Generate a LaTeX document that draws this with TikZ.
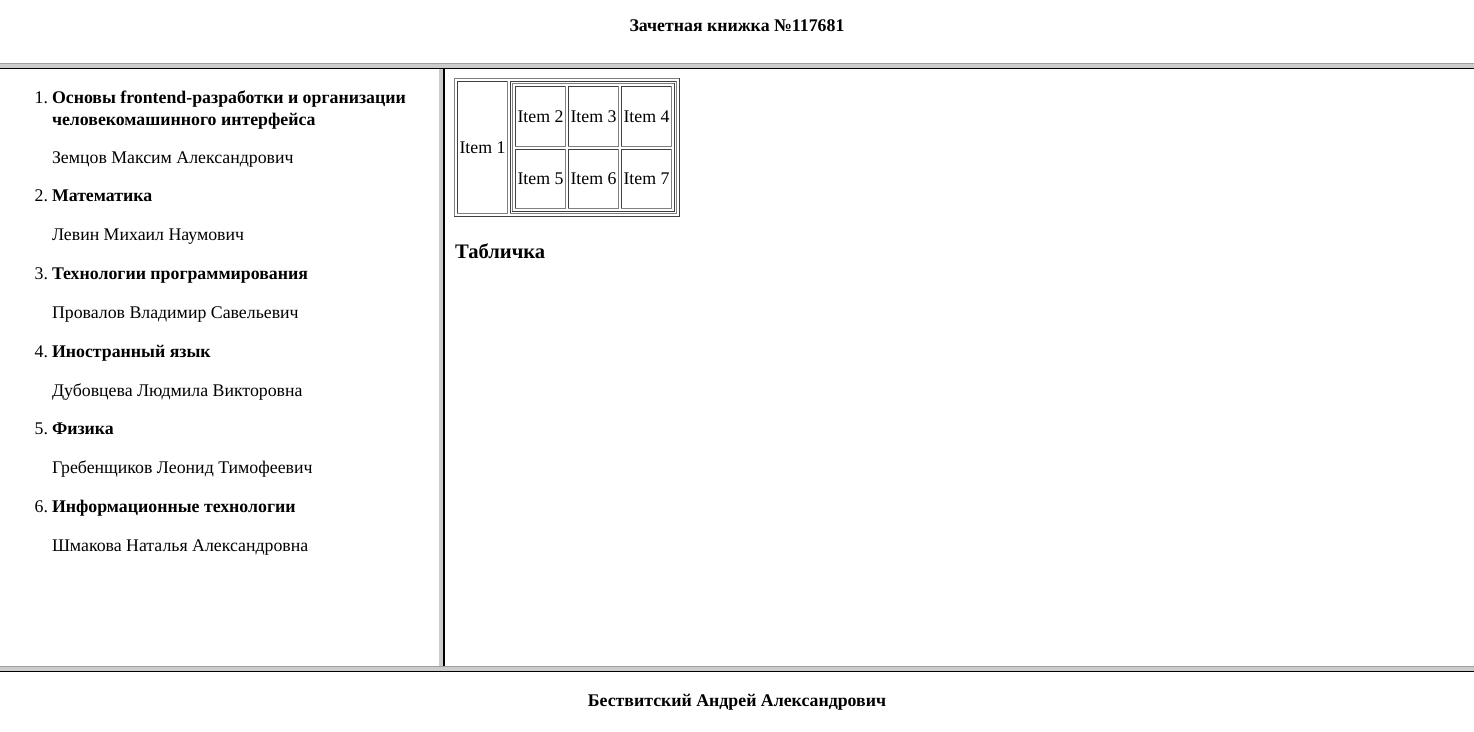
\documentclass[tikz,border=0pt]{standalone}
\usepackage{fontspec}
\setmainfont{Liberation Serif}
\definecolor{framegray}{RGB}{204,204,204}
\definecolor{frameedge}{RGB}{160,160,160}
\definecolor{tlight}{RGB}{128,128,128}
\definecolor{tdark}{RGB}{64,64,64}
\newcommand\mybevel[6]{%
  \draw[#5] (#1,#2+0.5) -- (#3,#2+0.5);
  \draw[#5] (#1+0.5,#2) -- (#1+0.5,#4);
  \draw[#6] (#3-0.5,#2) -- (#3-0.5,#4);
  \draw[#6] (#1,#4-0.5) -- (#3,#4-0.5);}
\begin{document}
\begin{tikzpicture}[x=1pt,y=-1pt,line width=1pt,
  every node/.style={inner sep=0pt,outer sep=0pt},
  txt/.style={font=\fontsize{17.8}{21}\selectfont},
  btxt/.style={font=\fontsize{17.8}{21}\selectfont\bfseries},
  htxt/.style={font=\fontsize{20.6}{24}\selectfont\bfseries}]
\useasboundingbox (0,0) rectangle (1474,731);
\fill[white] (0,0) rectangle (1474,731);
% frame borders
\fill[framegray] (0,62.5) rectangle (1474,67.5);
\draw[frameedge] (0,63) -- (1474,63);
\fill[black] (0,67.5) rectangle (1474,69);
\fill[framegray] (439,69) rectangle (443,665.5);
\fill[black] (443,69) rectangle (444.5,665.5);
\fill[framegray] (0,665.5) rectangle (1474,670.5);
\draw[frameedge] (0,666) -- (1474,666);
\fill[black] (0,670.5) rectangle (1474,672);
% header / footer
\node[btxt,anchor=base] (head) at (737,31) {Зачетная книжка №117681};
\node[btxt,anchor=base] (foot) at (737,706) {Бествитский Андрей Александрович};
% list
\node[txt,anchor=base east] (n1) at (48,103) {1.};
\node[btxt,anchor=base west] (s1a) at (52,103) {Основы frontend-разработки и организации};
\node[btxt,anchor=base west] (s1b) at (52,125) {человекомашинного интерфейса};
\node[txt,anchor=base west] (t1) at (52,163) {Земцов Максим Александрович};
\node[txt,anchor=base east] (n2) at (48,201) {2.};
\node[btxt,anchor=base west] (s2) at (52,201) {Математика};
\node[txt,anchor=base west] (t2) at (52,240) {Левин Михаил Наумович};
\node[txt,anchor=base east] (n3) at (48,279) {3.};
\node[btxt,anchor=base west] (s3) at (52,279) {Технологии программирования};
\node[txt,anchor=base west] (t3) at (52,318) {Провалов Владимир Савельевич};
\node[txt,anchor=base east] (n4) at (48,357) {4.};
\node[btxt,anchor=base west] (s4) at (52,357) {Иностранный язык};
\node[txt,anchor=base west] (t4) at (52,396) {Дубовцева Людмила Викторовна};
\node[txt,anchor=base east] (n5) at (48,434) {5.};
\node[btxt,anchor=base west] (s5) at (52,434) {Физика};
\node[txt,anchor=base west] (t5) at (52,473) {Гребенщиков Леонид Тимофеевич};
\node[txt,anchor=base east] (n6) at (48,512) {6.};
\node[btxt,anchor=base west] (s6) at (52,512) {Информационные технологии};
\node[txt,anchor=base west] (t6) at (52,551) {Шмакова Наталья Александровна};
% table
\mybevel{454}{78}{680}{217}{tlight}{tdark}
\mybevel{457}{81}{508}{214}{tdark}{tlight}
\mybevel{510}{81}{677}{214}{tdark}{tlight}
\mybevel{512}{83}{675}{212}{tlight}{tdark}
\mybevel{515}{86}{566}{147}{tdark}{tlight}
\mybevel{568}{86}{619}{147}{tdark}{tlight}
\mybevel{621}{86}{672}{147}{tdark}{tlight}
\mybevel{515}{149}{566}{209}{tdark}{tlight}
\mybevel{568}{149}{619}{209}{tdark}{tlight}
\mybevel{621}{149}{672}{209}{tdark}{tlight}
\node[txt] (i1) at (482.5,147.5) {Item 1};
\node[txt] (i2) at (540.5,116.5) {Item 2};
\node[txt] (i3) at (593.5,116.5) {Item 3};
\node[txt] (i4) at (646.5,116.5) {Item 4};
\node[txt] (i5) at (540.5,179) {Item 5};
\node[txt] (i6) at (593.5,179) {Item 6};
\node[txt] (i7) at (646.5,179) {Item 7};
\node[htxt,anchor=base west] (cap) at (455,258) {Табличка};
\end{tikzpicture}
\end{document}
